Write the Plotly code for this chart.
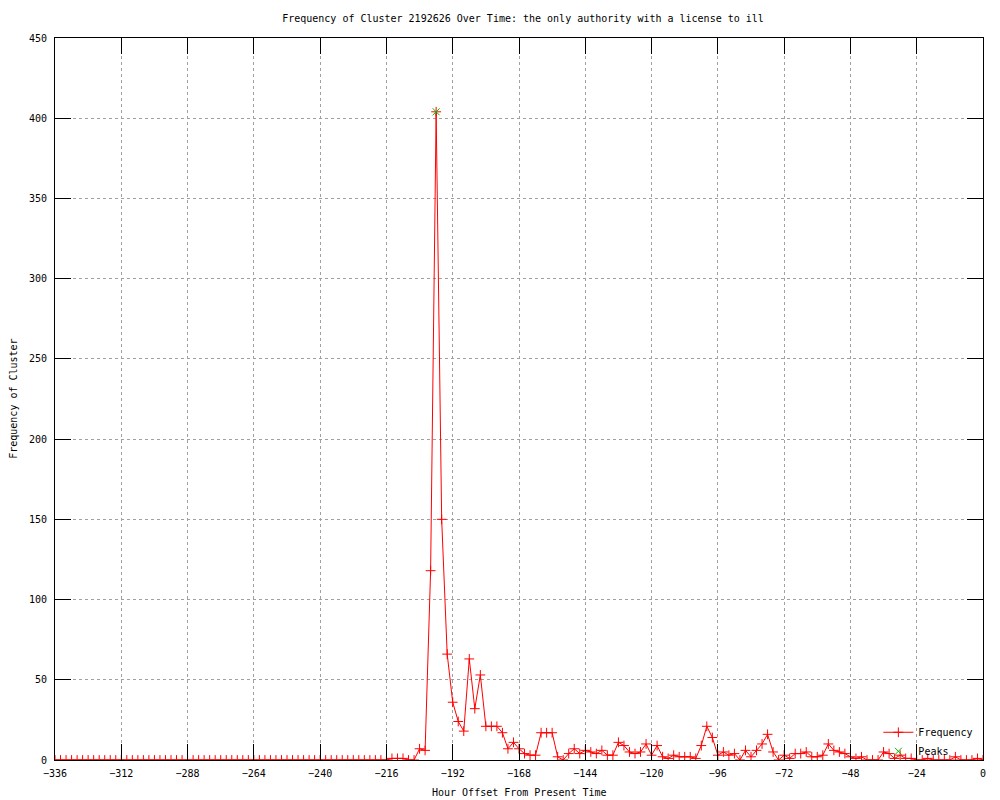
import plotly.graph_objects as go

# Hour offsets (every 2 hours from -336 to 0)
hours = list(range(-336, 1, 2))

# Frequency values (one per hour offset)
frequency = [
    0, 0, 0, 0, 0, 0, 0, 0, 0, 0, 0, 0, 0, 0, 0, 0, 0, 0, 0, 0,
    0, 0, 0, 0, 0, 0, 0, 0, 0, 0, 0, 0, 0, 0, 0, 0, 0, 0, 0, 0,
    0, 0, 0, 0, 0, 0, 0, 0, 0, 0, 0, 0, 0, 0, 0, 0, 0, 0, 0, 0,
    0,
    1, 1, 1, 0, 0, 7, 6, 118,
    404, 150, 66, 36, 24, 18, 63, 32, 53, 21, 21, 21,
    17, 7, 11, 7, 4, 3, 3, 17, 17, 17, 2, 0,
    4, 7, 4, 6, 5, 4, 6, 3, 3, 11, 9, 5,
    4, 5, 10, 3, 9, 2, 1, 3, 2, 2, 2, 1,
    9, 21, 14, 3, 5, 3, 4, 0, 6, 2, 6, 10,
    16, 5, 0, 3, 1, 4, 4, 5, 2, 2, 3, 10,
    6, 5, 4, 2, 1, 2, 0, 0, 0, 5, 4, 1,
    3, 1, 1, 0, 0, 1, 0, 0, 0, 0, 2, 0,
    0, 0, 1, 0,
]

peak_hours = [-198]
peak_values = [404]

x_ticks = [-336, -312, -288, -264, -240, -216, -192, -168, -144, -120, -96, -72, -48, -24, 0]
y_ticks = [0, 50, 100, 150, 200, 250, 300, 350, 400, 450]

FONT = "DejaVu Sans Mono"

fig = go.Figure()
fig.add_trace(go.Scatter(
    x=hours, y=frequency, name="Frequency", mode="lines+markers",
    line=dict(color="#ff0000", width=1),
    marker=dict(symbol="cross-thin-open", size=7, line=dict(color="#ff0000", width=1)),
))
fig.add_trace(go.Scatter(
    x=peak_hours, y=peak_values, name="Peaks", mode="markers",
    marker=dict(symbol="x-thin-open", size=7, color="#00c000", line=dict(color="#00c000", width=1)),
))

axis_common = dict(
    showline=True, linecolor="black", linewidth=1, mirror="allticks",
    ticks="inside", ticklen=16, tickcolor="black", tickwidth=1,
    showgrid=True, gridcolor="#a0a0a0", griddash="dot", gridwidth=1,
    zeroline=False, tickfont=dict(family=FONT, size=10, color="black"),
)

fig.update_xaxes(range=[-336, 0], tickvals=x_ticks, ticklabelstandoff=4, **axis_common)
fig.update_yaxes(range=[0, 450], tickvals=y_ticks, ticklabelstandoff=5, **axis_common)

fig.update_layout(
    width=1000, height=800,
    margin=dict(l=55, r=17, t=38, b=40),
    paper_bgcolor="white", plot_bgcolor="white",
    font=dict(family=FONT, size=10, color="black"),
    title=dict(text="Frequency of Cluster 2192626 Over Time: the only authority with a license to ill",
               x=0.523, xanchor="center", y=0.977, yanchor="middle", yref="container",
               font=dict(family=FONT, size=10, color="black")),
    showlegend=True,
    legend=dict(x=0.995, y=-0.008, xanchor="right", yanchor="bottom",
                bgcolor="rgba(0,0,0,0)", font=dict(family=FONT, size=10),
                itemwidth=30, tracegroupgap=0),
    annotations=[
        dict(text="Frequency of Cluster", textangle=-90, xref="paper", yref="paper",
             x=-0.0455, y=0.5, xanchor="center", yanchor="middle", showarrow=False,
             font=dict(family=FONT, size=10)),
        dict(text="Hour Offset From Present Time", xref="paper", yref="paper",
             x=0.5, y=-0.045, xanchor="center", yanchor="middle", showarrow=False,
             font=dict(family=FONT, size=10)),
    ],
)

fig.write_html("out.html", config={"displayModeBar": False},
               post_script="document.body.style.margin='0';document.body.style.padding='0';")
